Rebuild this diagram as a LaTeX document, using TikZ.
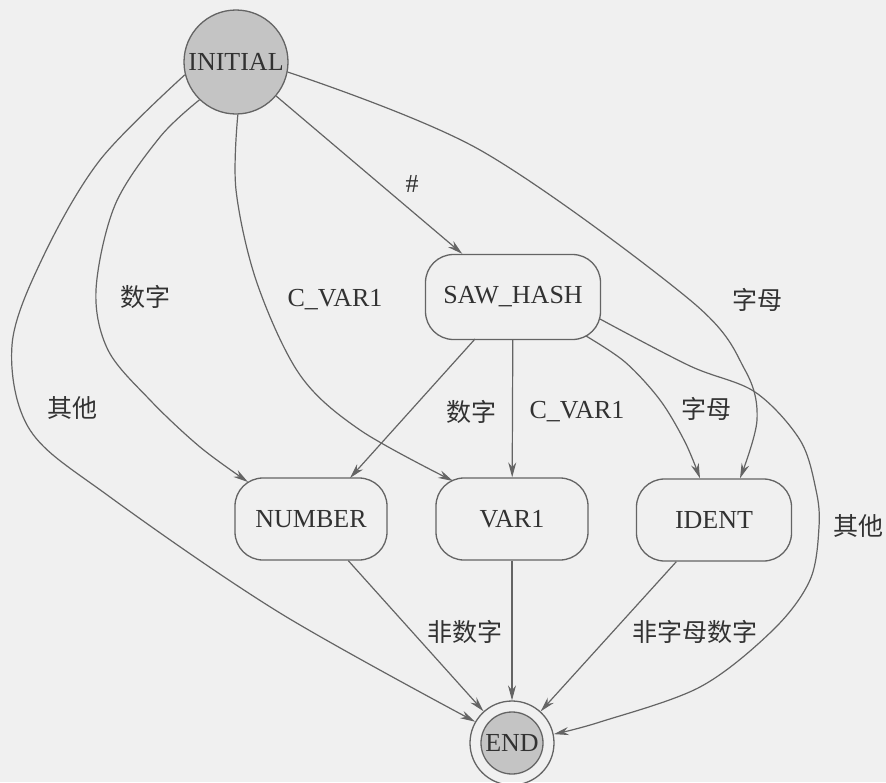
\documentclass[tikz,border=0pt]{standalone}
\usepackage{fontspec}
\setmainfont{Liberation Serif}
\newfontfamily\cjk{Noto Sans CJK SC}
\usetikzlibrary{arrows.meta,calc}
\definecolor{bg}{RGB}{240,240,240}
\definecolor{ln}{RGB}{100,100,100}
\definecolor{txt}{RGB}{50,50,50}
\definecolor{nodefill}{RGB}{196,196,196}
\begin{document}
\begin{tikzpicture}[x=1pt,y=-1pt,
  statebox/.style={draw=ln, line width=1.3pt, rounded corners=28pt,
    minimum width=#1, minimum height=82pt, inner sep=0pt, text=txt,
    font=\fontsize{26}{30}\selectfont},
  edge/.style={draw=ln, line width=1.2pt, -{Stealth[length=15pt,width=8pt]}},
  cjklab/.style={text=txt, inner sep=0pt, font=\cjk\fontsize{25}{30}\selectfont},
  llab/.style={text=txt, inner sep=0pt, font=\fontsize{26}{30}\selectfont}]
\useasboundingbox (0,0) rectangle (886,782);
\fill[bg] (0,0) rectangle (886,782);

% nodes
\node[circle, draw=ln, fill=nodefill, line width=1.3pt, minimum size=104pt,
  inner sep=0pt, text=txt, font=\fontsize{26}{30}\selectfont] (INITIAL) at (236,62) {INITIAL};
\node[statebox=175pt, minimum height=85pt] (SAW_HASH) at (513,297) {SAW\_HASH};
\node[statebox=152pt] (NUMBER) at (311,519) {NUMBER};
\node[statebox=152pt] (VAR1) at (512,519) {VAR1};
\node[statebox=155pt] (IDENT) at (714,520) {IDENT};
\node[circle, draw=ln, line width=1.3pt, minimum size=84pt, inner sep=0pt,
  text=txt, font=\fontsize{26}{30}\selectfont,
  path picture={\draw[ln, line width=1.3pt, fill=nodefill]
    (path picture bounding box.center) circle (31pt);}] (END) at (512,743) {END};

% straight connectors
\draw[edge] (INITIAL) -- (SAW_HASH);
\draw[edge] (SAW_HASH) -- (VAR1);
\draw[edge] ($(SAW_HASH.center)+(-38,42)$) -- ($(NUMBER.center)+(39,-41)$);
\draw[edge] (NUMBER) -- (END);
\draw[edge] (VAR1) -- (END);
\draw[edge] (IDENT) -- (END);

% curved connectors
\draw[edge] plot[smooth, tension=0.55] coordinates {(INITIAL.194) (100,160) (43,257)
  (12,345) (30,430) (110,497) (280,613) (END.150)};
\draw[edge] plot[smooth, tension=0.55] coordinates {(INITIAL.226) (160,137) (115,205)
  (96,290) (108,350) (150,400) (200,447) ($(NUMBER.center)+(-63,-37)$)};
\draw[edge] plot[smooth, tension=0.55] coordinates {(INITIAL.-88) (236,190) (257,283)
  (300,375) (360,430) ($(VAR1.center)+(-59,-38)$)};
\draw[edge] plot[smooth, tension=0.55] coordinates {(INITIAL.-11) (480,150) (690,300)
  (745,370) (757,420) ($(IDENT.north)+(26,0)$)};
\draw[edge] plot[smooth, tension=0.55] coordinates {($(SAW_HASH.center)+(73,39)$)
  (625,362) (660,400) (685,442) ($(IDENT.north)+(-14,0)$)};
\draw[edge] plot[smooth, tension=0.55] coordinates {($(SAW_HASH.center)+(87,22)$)
  (690,366) (755,392) (800,440) (816,490) (819,527) (810,580) (773,630) (700,687)
  (600,722) (END.12)};

% labels
\node[llab] at (412,184) {\#};
\node[cjklab] at (145,297) {数字};
\node[llab] at (335,300) {C\_VAR1};
\node[cjklab] at (757,300) {字母};
\node[cjklab] at (72,408) {其他};
\node[cjklab] at (471,412) {数字};
\node[llab] at (577,412) {C\_VAR1};
\node[cjklab] at (706,409) {字母};
\node[cjklab] at (858,526) {其他};
\node[cjklab] at (465,632) {非数字};
\node[cjklab] at (695,632) {非字母数字};
\end{tikzpicture}
\end{document}
